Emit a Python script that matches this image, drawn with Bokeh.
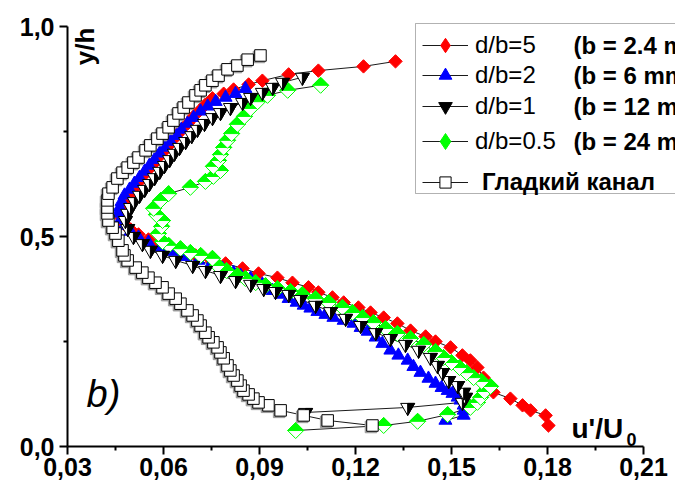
import math
from bokeh.plotting import figure
from bokeh.models import (Range1d, FixedTicker, CustomJSTickFormatter, Label,
                          BoxAnnotation, Legend, LegendItem)
from bokeh.embed import file_html
from bokeh.resources import INLINE

# ------------------------------------------------------------------ data
x_ticks = [0.03, 0.06, 0.09, 0.12, 0.15, 0.18, 0.21]
x_minor = [0.045, 0.075, 0.105, 0.135, 0.165, 0.195]
y_ticks = [0.0, 0.5, 1.0]
y_minor = [0.25, 0.75]

series_labels = ["d/b=5", "d/b=2", "d/b=1", "d/b=0.5", "Гладкий канал"]
b_labels = ["(b = 2.4 mm)", "(b = 6 mm)", "(b = 12 mm)", "(b = 24 mm)"]

# d/b=5  (b = 2.4 mm)
x_db5 = [0.1803, 0.1794, 0.1747, 0.1722, 0.1684, 0.1631, 0.1616, 0.1600, 0.1581, 0.1559,
         0.1534, 0.1497, 0.1450, 0.1419, 0.1372, 0.1331, 0.1288, 0.1247, 0.1209, 0.1163,
         0.1128, 0.1084, 0.1053, 0.1003, 0.0956, 0.0897, 0.0847, 0.0794, 0.0747, 0.0700,
         0.0659, 0.0622, 0.0584, 0.0553, 0.0522, 0.0497, 0.0478, 0.0469, 0.0469, 0.0475,
         0.0484, 0.0497, 0.0509, 0.0522, 0.0534, 0.0550, 0.0566, 0.0581, 0.0597, 0.0613,
         0.0628, 0.0644, 0.0659, 0.0678, 0.0694, 0.0713, 0.0731, 0.0753, 0.0788, 0.0819,
         0.0866, 0.0909, 0.0991, 0.1084, 0.1225, 0.1325]
y_db5 = [0.050, 0.074, 0.086, 0.098, 0.114, 0.129, 0.145, 0.164, 0.188, 0.205,
         0.217, 0.236, 0.250, 0.262, 0.276, 0.293, 0.307, 0.319, 0.331, 0.343,
         0.355, 0.367, 0.379, 0.390, 0.402, 0.412, 0.424, 0.436, 0.445, 0.455,
         0.464, 0.474, 0.483, 0.493, 0.505, 0.517, 0.529, 0.543, 0.557, 0.571,
         0.586, 0.600, 0.614, 0.629, 0.643, 0.657, 0.671, 0.686, 0.700, 0.714,
         0.729, 0.743, 0.757, 0.771, 0.786, 0.800, 0.814, 0.829, 0.840, 0.850,
         0.862, 0.871, 0.886, 0.895, 0.905, 0.917]

# d/b=2  (b = 6 mm)
x_db2 = [0.1481, 0.1538, 0.1538, 0.1538, 0.1528, 0.1519, 0.1503, 0.1488, 0.1469, 0.1450,
         0.1428, 0.1403, 0.1381, 0.1363, 0.1334, 0.1309, 0.1284, 0.1263, 0.1238, 0.1216,
         0.1194, 0.1163, 0.1131, 0.1106, 0.1081, 0.1059, 0.1038, 0.1016, 0.0991, 0.0966,
         0.0941, 0.0909, 0.0872, 0.0841, 0.0819, 0.0784, 0.0747, 0.0709, 0.0669, 0.0628,
         0.0591, 0.0553, 0.0522, 0.0497, 0.0478, 0.0466, 0.0459, 0.0463, 0.0469, 0.0478,
         0.0494, 0.0509, 0.0525, 0.0541, 0.0556, 0.0572, 0.0588, 0.0603, 0.0622, 0.0641,
         0.0656, 0.0675, 0.0694, 0.0716, 0.0738, 0.0763, 0.0794, 0.0825, 0.0856]
y_db2 = [0.062, 0.074, 0.086, 0.098, 0.110, 0.117, 0.126, 0.133, 0.140, 0.150,
         0.162, 0.176, 0.190, 0.205, 0.217, 0.229, 0.245, 0.260, 0.274, 0.283,
         0.293, 0.300, 0.307, 0.314, 0.321, 0.329, 0.336, 0.343, 0.352, 0.362,
         0.371, 0.386, 0.400, 0.407, 0.414, 0.424, 0.433, 0.443, 0.452, 0.464,
         0.474, 0.486, 0.498, 0.512, 0.526, 0.540, 0.555, 0.569, 0.583, 0.598,
         0.612, 0.626, 0.640, 0.655, 0.669, 0.683, 0.698, 0.712, 0.726, 0.740,
         0.755, 0.769, 0.783, 0.798, 0.810, 0.821, 0.831, 0.840, 0.852]

# d/b=1  (b = 12 mm)
x_db1 = [0.1044, 0.1363, 0.1534, 0.1544, 0.1538, 0.1519, 0.1491, 0.1472, 0.1456, 0.1434,
         0.1397, 0.1356, 0.1309, 0.1263, 0.1216, 0.1169, 0.1122, 0.1075, 0.1028, 0.0991,
         0.0950, 0.0913, 0.0872, 0.0825, 0.0778, 0.0731, 0.0691, 0.0638, 0.0597, 0.0559,
         0.0534, 0.0506, 0.0488, 0.0481,
         0.0488, 0.0497, 0.0509, 0.0525, 0.0541, 0.0556, 0.0572, 0.0588, 0.0603, 0.0619,
         0.0634, 0.0650, 0.0669, 0.0688, 0.0706, 0.0728, 0.0753, 0.0778, 0.0809, 0.0847,
         0.0872, 0.0909, 0.0941, 0.0972, 0.1034]
y_db1 = [0.081, 0.093, 0.105, 0.117, 0.129, 0.145, 0.157, 0.176, 0.193, 0.212,
         0.229, 0.243, 0.257, 0.271, 0.288, 0.305, 0.321, 0.336, 0.350, 0.362,
         0.369, 0.376, 0.386, 0.395, 0.407, 0.419, 0.431, 0.443, 0.455, 0.467,
         0.483, 0.500, 0.519, 0.538,
         0.555, 0.569, 0.583, 0.598, 0.612, 0.626, 0.640, 0.655, 0.669, 0.683,
         0.698, 0.712, 0.726, 0.740, 0.755, 0.769, 0.783, 0.795, 0.807, 0.819,
         0.831, 0.843, 0.855, 0.867, 0.879]

# d/b=0.5  (b = 24 mm)
x_db05 = [0.1013, 0.1288, 0.1394, 0.1488, 0.1559, 0.1581, 0.1591, 0.1603, 0.1622, 0.1594,
          0.1569, 0.1547, 0.1525, 0.1500, 0.1475, 0.1450, 0.1413, 0.1372, 0.1331, 0.1294,
          0.1256, 0.1222, 0.1191, 0.1159, 0.1116, 0.1075, 0.1034, 0.0997, 0.0956, 0.0919,
          0.0888, 0.0856, 0.0831, 0.0797, 0.0769, 0.0753, 0.0716, 0.0684, 0.0653, 0.0616,
          0.0597, 0.0584, 0.0594, 0.0597, 0.0578, 0.0569, 0.0591, 0.0616, 0.0684, 0.0731,
          0.0756, 0.0778, 0.0756, 0.0772, 0.0778, 0.0788, 0.0800, 0.0813, 0.0831, 0.0853,
          0.0872, 0.0894, 0.0925, 0.0988, 0.1091]
y_db05 = [0.038, 0.050, 0.060, 0.076, 0.093, 0.105, 0.117, 0.131, 0.143, 0.155,
          0.164, 0.176, 0.188, 0.200, 0.212, 0.226, 0.243, 0.257, 0.269, 0.281,
          0.295, 0.307, 0.319, 0.331, 0.343, 0.352, 0.362, 0.369, 0.376, 0.383,
          0.390, 0.400, 0.407, 0.419, 0.431, 0.448, 0.455, 0.462, 0.471, 0.479,
          0.488, 0.507, 0.524, 0.538, 0.552, 0.567, 0.586, 0.602, 0.617, 0.631,
          0.643, 0.657, 0.667, 0.681, 0.695, 0.712, 0.729, 0.745, 0.767, 0.786,
          0.805, 0.821, 0.836, 0.848, 0.860]

# smooth channel
x_smooth = [0.1253, 0.1113, 0.1038, 0.0966, 0.0928, 0.0897, 0.0881, 0.0866, 0.0850, 0.0841,
            0.0831, 0.0819, 0.0809, 0.0800, 0.0788, 0.0778, 0.0769, 0.0756, 0.0741, 0.0731,
            0.0716, 0.0706, 0.0691, 0.0675, 0.0653, 0.0638, 0.0616, 0.0597, 0.0575, 0.0553,
            0.0534, 0.0513, 0.0488, 0.0478, 0.0472, 0.0459, 0.0450, 0.0441, 0.0428, 0.0425,
            0.0425, 0.0425, 0.0428, 0.0441, 0.0456, 0.0472, 0.0488, 0.0506, 0.0522, 0.0544,
            0.0559, 0.0581, 0.0597, 0.0616, 0.0631, 0.0647, 0.0663, 0.0678, 0.0700, 0.0716,
            0.0731, 0.0753, 0.0772, 0.0800, 0.0831, 0.0863, 0.0903]
y_smooth = [0.050, 0.062, 0.074, 0.086, 0.098, 0.105, 0.114, 0.124, 0.133, 0.145,
            0.157, 0.169, 0.181, 0.193, 0.210, 0.224, 0.236, 0.248, 0.260, 0.271,
            0.288, 0.300, 0.312, 0.324, 0.340, 0.352, 0.364, 0.379, 0.390, 0.402,
            0.414, 0.426, 0.443, 0.455, 0.467, 0.490, 0.507, 0.521, 0.538, 0.555,
            0.569, 0.586, 0.602, 0.617, 0.638, 0.652, 0.664, 0.676, 0.688, 0.705,
            0.717, 0.733, 0.745, 0.760, 0.776, 0.793, 0.807, 0.819, 0.836, 0.848,
            0.860, 0.871, 0.883, 0.898, 0.907, 0.921, 0.931]

# ------------------------------------------------------------------ layout
W, H = 675, 492
FL, FB = 67, 446                 # frame left edge / frame bottom (canvas px)
AXW, AXH = 576, 420              # drawn axis lengths (px)
KX = AXW / (x_ticks[-1] - x_ticks[0])   # px per x unit
KY = AXH / (y_ticks[-1] - y_ticks[0])   # px per y unit
X0 = x_ticks[0]
X1 = X0 + (W - FL) / KX          # frame runs to the canvas edge so texts are not clipped early
Y0 = y_ticks[0]
Y1 = Y0 + FB / KY
FONT = "Liberation Sans"
RED, BLUE, GREEN, BLACK = "#ff0000", "#0000ff", "#00ff00", "#000000"


def cx(px):   # canvas px -> data x (annotation placement)
    return X0 + (px - FL) / KX


def cy(py):   # canvas px -> data y
    return Y0 + (FB - py) / KY


p = figure(width=W, height=H, x_range=Range1d(X0, X1), y_range=Range1d(Y0, Y1),
           output_backend="svg", toolbar_location=None,
           min_border_left=FL, min_border_right=0,
           min_border_top=0, min_border_bottom=H - FB)
p.title.visible = False
p.outline_line_color = None
p.xgrid.visible = False
p.ygrid.visible = False
p.background_fill_color = "white"
p.border_fill_color = "white"

for ax, ticks, minor, nd in ((p.xaxis[0], x_ticks, x_minor, 2), (p.yaxis[0], y_ticks, y_minor, 1)):
    ax.ticker = FixedTicker(ticks=ticks, minor_ticks=minor)
    ax.bounds = (ticks[0], ticks[-1])
    ax.formatter = CustomJSTickFormatter(code="return tick.toFixed(%d).replace('.', ',');" % nd)
    ax.axis_line_width = 2
    ax.axis_line_color = BLACK
    ax.major_tick_line_width = 2
    ax.minor_tick_line_width = 2
    ax.major_tick_out = 8
    ax.major_tick_in = 0
    ax.minor_tick_out = 4
    ax.minor_tick_in = 0
    ax.major_label_text_font = FONT
    ax.major_label_text_font_style = "bold"
    ax.major_label_text_font_size = "25px"
    ax.major_label_text_color = BLACK
p.xaxis[0].major_label_standoff = 3
p.yaxis[0].major_label_standoff = 5

LW = 0.9  # connecting line width

# connecting lines
ln5 = p.line(x_db5, y_db5, line_color=BLACK, line_width=LW)
ln2 = p.line(x_db2, y_db2, line_color=BLACK, line_width=LW)
ln05 = p.line(x_db05, y_db05, line_color=BLACK, line_width=LW)
ln1 = p.line(x_db1, y_db1, line_color=BLACK, line_width=LW)
lns = p.line(x_smooth, y_smooth, line_color=BLACK, line_width=LW)

# d/b=5 : red diamonds
p.scatter(x_db5, y_db5, marker="square", angle=math.pi / 4, size=9.5,
          fill_color=RED, line_color=RED, line_width=1)
# d/b=2 : blue triangles
sc2 = p.scatter(x_db2, y_db2, marker="triangle", size=13,
                fill_color=BLUE, line_color=BLUE, line_width=1)

# d/b=0.5 : half-filled green diamonds (each point drawn whole before the next)
HD = 8.0
gx, gy, gc = [], [], []
for x, y in zip(x_db05, y_db05):
    hx, hy = HD / KX, HD / KY
    gx.append([x - hx, x, x + hx, x]); gy.append([y, y + hy, y, y - hy]); gc.append("white")
    gx.append([x - hx, x, x + hx]); gy.append([y, y + hy, y]); gc.append(GREEN)
p.patches(gx, gy, fill_color=gc, line_color=GREEN, line_width=1)

# d/b=1 : half-filled inverted triangles
R = 7.0
A = R * math.sqrt(3) / 3
tx, ty, tc = [], [], []
for x, y in zip(x_db1, y_db1):
    rx, ay = R / KX, A / KY
    tx.append([x - rx, x + rx, x]); ty.append([y + ay, y + ay, y - 2 * ay]); tc.append("white")
    tx.append([x, x + rx, x]); ty.append([y + ay, y + ay, y - 2 * ay]); tc.append(BLACK)
p.patches(tx, ty, fill_color=tc, line_color=BLACK, line_width=1)

# smooth channel : open squares with a faint grey shadow
SH = 1.5
p.scatter([x - SH / KX for x in x_smooth], [y - SH / KY for y in y_smooth],
          marker="square", size=11.5, fill_color="#9a9a9a", line_color="#9a9a9a", line_width=1)
scs = p.scatter(x_smooth, y_smooth, marker="square", size=11.5,
                fill_color="white", line_color=BLACK, line_width=1)

# legend-only marker proxies (not shown on the plot itself)
px5 = p.scatter(x_db5, y_db5, marker="diamond", fill_color=RED,
                line_color=RED, line_width=1, visible=False)
px1 = p.scatter(x_db1, y_db1, marker="inverted_triangle", fill_color=BLACK,
                line_color=BLACK, line_width=1, visible=False)
px05 = p.scatter(x_db05, y_db05, marker="diamond", fill_color=GREEN,
                 line_color=GREEN, line_width=1, visible=False)

# ------------------------------------------------------------------ legend
rows_y = [45, 75, 106, 141, 182]
leg_rend = [[ln5, px5], [ln2, sc2], [ln1, px1], [ln05, px05], [lns, scs]]
leg_G = [36, 32, 34, 40, 28]      # glyph box height -> marker size in legend
for i, (lab, yc, rends, G) in enumerate(zip(series_labels, rows_y, leg_rend, leg_G)):
    leg = Legend(items=[LegendItem(label=lab, renderers=rends)],
                 location=(422 - FL, FB - (yc + G / 2)),
                 glyph_width=46, glyph_height=G, label_height=G,
                 label_standoff=7 if i < 4 else 14,
                 padding=0, margin=0, spacing=0,
                 border_line_color=None, background_fill_alpha=0,
                 inactive_fill_alpha=0,
                 label_text_font=FONT, label_text_font_size="24px",
                 label_text_font_style="bold" if i == 4 else "normal",
                 label_text_color=BLACK)
    p.add_layout(leg)
    if i < 4:
        p.add_layout(Label(x=cx(573), y=cy(yc), text=b_labels[i], text_font=FONT,
                           text_font_size="24px", text_font_style="bold",
                           text_baseline="middle", text_color=BLACK))

p.add_layout(BoxAnnotation(left=cx(415), right=cx(720), top=cy(23), bottom=cy(193),
                           fill_alpha=0, line_color=BLACK, line_width=1))

# ------------------------------------------------------------------ axis titles / panel tag
p.add_layout(Label(x=cx(84), y=cy(46), text="y/h", angle=math.pi / 2, text_font=FONT,
                   text_font_size="26px", text_font_style="bold",
                   text_align="center", text_baseline="middle", text_color=BLACK))
p.add_layout(Label(x=cx(571), y=cy(428), text="u'/U", text_font=FONT,
                   text_font_size="28px", text_font_style="bold",
                   text_baseline="alphabetic", text_color=BLACK))
p.add_layout(Label(x=cx(626), y=cy(439), text="0", text_font=FONT,
                   text_font_size="18px", text_font_style="bold",
                   text_baseline="alphabetic", text_color=BLACK))
p.add_layout(Label(x=cx(86), y=cy(393), text="b)", text_font=FONT,
                   text_font_size="38px", text_font_style="italic",
                   text_baseline="alphabetic", text_color=BLACK))

open("out.html", "w").write(file_html(p, INLINE))
